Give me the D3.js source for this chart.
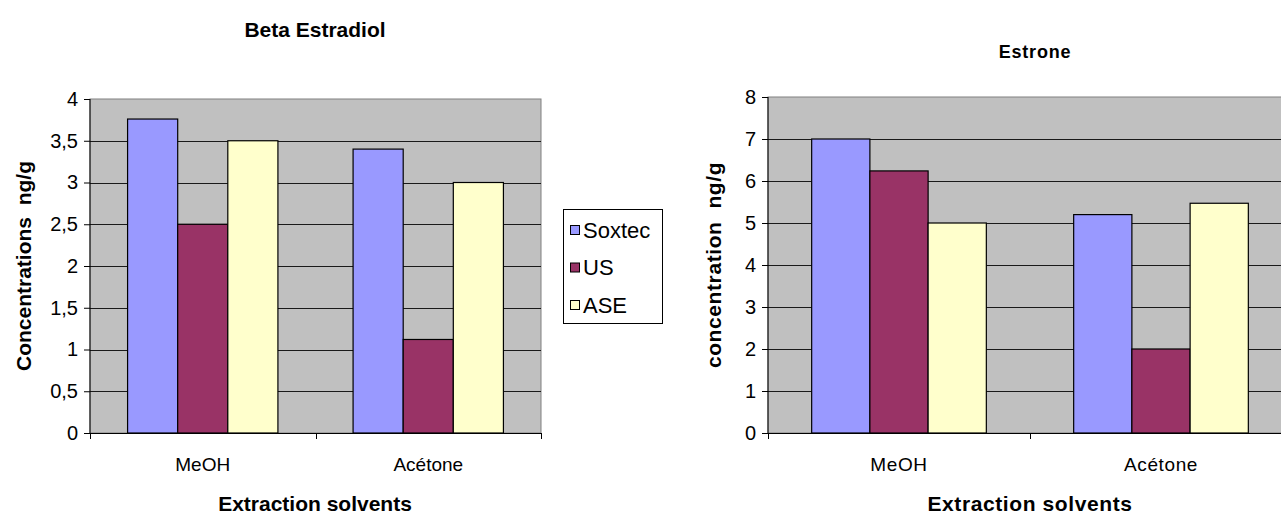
<!DOCTYPE html>
<html><head><meta charset="utf-8">
<script src="https://cdn.jsdelivr.net/npm/d3@7"></script>
<style>
html,body{margin:0;padding:0;background:#fff;}
svg{display:block;font-family:Arial,"Liberation Sans",sans-serif;}
</style></head>
<body><svg id="c" width="1281" height="515"></svg>
<script>
const categories = ["MeOH", "Acétone"];
const series = ["Soxtec", "US", "ASE"];
const colors = ["#9999FF", "#993366", "#FFFFCC"];
// Beta Estradiol (ng/g)
const betaSoxtec = [3.76, 3.40];
const betaUS = [2.50, 1.12];
const betaASE = [3.50, 3.00];
const betaTicks = [0, 0.5, 1, 1.5, 2, 2.5, 3, 3.5, 4];
// Estrone (ng/g)
const estSoxtec = [7.00, 5.20];
const estUS = [6.24, 2.00];
const estASE = [5.00, 5.47];
const estTicks = [0, 1, 2, 3, 4, 5, 6, 7, 8];

const svg = d3.select("#c");
const fmt = d => String(d).replace(".", ",");

function chart(cfg) {
  const g = svg.append("g");
  const {x0, x1, y0, y1} = cfg.box;
  const x = d3.scaleBand().domain(categories).range([x0, x1]).paddingInner(0).paddingOuter(0);
  const bw = x.bandwidth();
  const off = bw * 0.75 / 4.5;
  const xs = d3.scaleBand().domain(series).range([off, bw - off]).paddingInner(0);
  const y = d3.scaleLinear().domain([0, cfg.ticks[cfg.ticks.length - 1]]).range([y0, y1]);

  g.append("rect").attr("x", x0).attr("y", y1).attr("width", x1 - x0).attr("height", y0 - y1)
    .attr("fill", "#C0C0C0").attr("stroke", "#808080").attr("stroke-width", 1);

  g.selectAll("line.grid").data(cfg.ticks.filter((t, i) => i > 0 && i < cfg.ticks.length - 1))
    .join("line").attr("class", "grid")
    .attr("x1", x0).attr("x2", x1)
    .attr("y1", d => Math.round(y(d)) + 0.5).attr("y2", d => Math.round(y(d)) + 0.5)
    .attr("stroke", "#1a1a1a").attr("stroke-width", 1);

  const data = [];
  categories.forEach((c, i) => series.forEach((s, j) => data.push({c, s, j, v: cfg.values[j][i]})));
  g.selectAll("rect.bar").data(data).join("rect").attr("class", "bar")
    .attr("x", d => x(d.c) + xs(d.s)).attr("width", xs.bandwidth())
    .attr("y", d => y(d.v)).attr("height", d => y(0) - y(d.v))
    .attr("fill", d => colors[d.j]).attr("stroke", "#000").attr("stroke-width", 1.2);

  // y axis
  const ya = g.append("g").attr("transform", `translate(${x0},0)`)
    .call(d3.axisLeft(y).tickValues(cfg.ticks).tickFormat(fmt).tickSize(6).tickPadding(6));
  ya.select(".domain").attr("stroke", "#000").attr("d", `M0,${y1}V${y0}`);
  ya.selectAll(".tick line").attr("stroke", "#000");
  ya.selectAll(".tick text").attr("font-size", cfg.tickFont).attr("fill", "#000")
    .attr("font-family", "Arial, 'Liberation Sans', sans-serif");

  // x axis
  const xa = g.append("g").attr("transform", `translate(0,${y0})`)
    .call(d3.axisBottom(x).tickSize(0).tickPadding(cfg.catPad));
  xa.select(".domain").attr("stroke", "#000").attr("d", `M${x0},0.5H${x1}`);
  xa.selectAll(".tick text").attr("font-size", cfg.catFont).attr("fill", "#000")
    .attr("font-family", "Arial, 'Liberation Sans', sans-serif")
    .attr("letter-spacing", cfg.catLS);
  const bounds = [x0, ...categories.map(c => x(c) + bw)];
  xa.selectAll("line.sep").data(bounds).join("line").attr("class", "sep")
    .attr("x1", d => Math.round(d) + 0.5).attr("x2", d => Math.round(d) + 0.5)
    .attr("y1", 0).attr("y2", 6).attr("stroke", "#000");

  g.append("text").attr("x", cfg.title.x).attr("y", cfg.title.y).attr("text-anchor", "middle")
    .attr("font-weight", "bold").attr("font-size", cfg.title.size)
    .attr("letter-spacing", cfg.title.ls).text(cfg.title.text);
  g.append("text").attr("x", cfg.xTitleX).attr("y", cfg.xTitleY).attr("text-anchor", "middle")
    .attr("font-weight", "bold").attr("font-size", cfg.axisFont)
    .attr("letter-spacing", cfg.axisLS).text("Extraction solvents");
  g.append("text").attr("transform", `translate(${cfg.yTitleX},${(y0 + y1) / 2}) rotate(-90)`)
    .attr("text-anchor", "middle").attr("font-weight", "bold").attr("font-size", cfg.axisFont)
    .attr("letter-spacing", cfg.axisLS).style("white-space", "pre").text(cfg.yTitle);
}

chart({
  box: {x0: 90, x1: 541, y0: 433, y1: 99},
  ticks: betaTicks, values: [betaSoxtec, betaUS, betaASE],
  tickFont: 20, catFont: 19, catPad: 25, catLS: 0,
  axisFont: 21, axisLS: 0,
  title: {text: "Beta Estradiol", x: 315, y: 37, size: 21, ls: 0},
  xTitleX: 315, xTitleY: 511,
  yTitleX: 31, yTitle: "Concentrations  ng/g"
});
chart({
  box: {x0: 768, x1: 1292, y0: 433, y1: 97},
  ticks: estTicks, values: [estSoxtec, estUS, estASE],
  tickFont: 20, catFont: 19, catPad: 25, catLS: 0.6,
  axisFont: 21, axisLS: 0.6,
  title: {text: "Estrone", x: 1035, y: 58, size: 18, ls: 0.8},
  xTitleX: 1030, xTitleY: 511,
  yTitleX: 721, yTitle: "concentration  ng/g"
});

// legend
const lg = svg.append("g");
lg.append("rect").attr("x", 563.5).attr("y", 209.5).attr("width", 99).attr("height", 114)
  .attr("fill", "#fff").attr("stroke", "#000").attr("stroke-width", 1);
const ly = d3.scalePoint().domain(series).range([230, 305]);
series.forEach((s, j) => {
  lg.append("rect").attr("x", 570.5).attr("y", ly(s) - 4.5).attr("width", 9).attr("height", 9)
    .attr("fill", colors[j]).attr("stroke", "#000").attr("stroke-width", 1);
  lg.append("text").attr("x", 583).attr("y", ly(s)).attr("dy", "0.36em")
    .attr("font-size", 22).text(s);
});
</script></body></html>
